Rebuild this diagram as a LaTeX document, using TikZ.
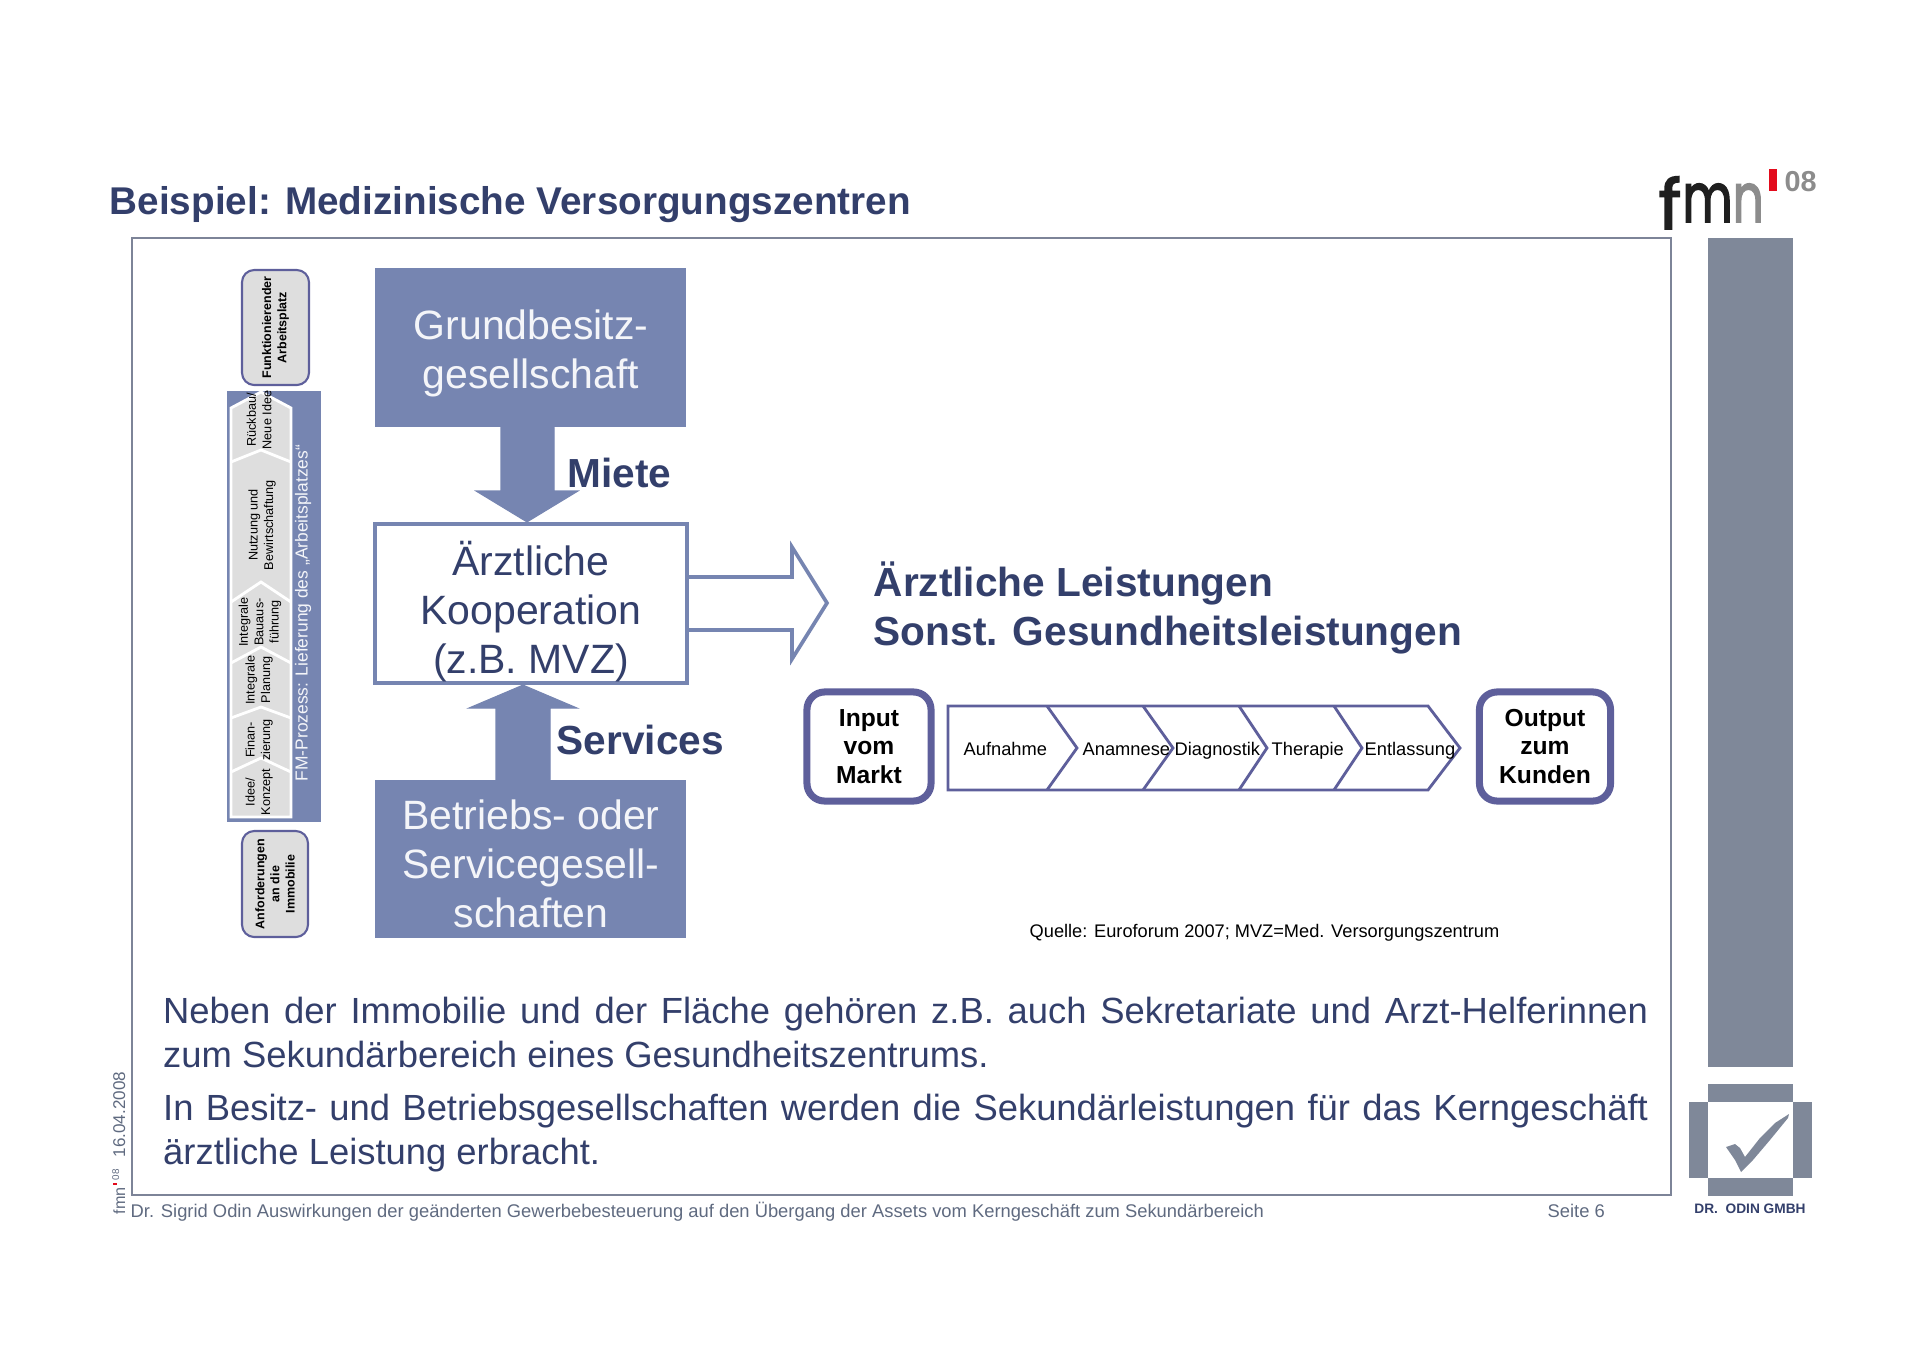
\documentclass[tikz,border=0pt]{standalone}
\usepackage{fontspec}
\setmainfont{Liberation Sans}
\newfontfamily\logofont[FakeBold=2.5]{Poppins}
\usetikzlibrary{positioning, calc}
\definecolor{fmnavy}{HTML}{333F6B}
\definecolor{fmblue}{HTML}{7685B1}
\definecolor{fmgrey}{HTML}{7F8899}
\definecolor{fmframe}{HTML}{7D8498}
\definecolor{fmline}{HTML}{5E5F9B}
\definecolor{fmfoot}{HTML}{5F6A80}
\definecolor{fmgray}{HTML}{DEDEDE}
\definecolor{fmred}{HTML}{E30B1C}
\begin{document}
\begin{tikzpicture}[
  x=0.01cm, y=-0.01cm,
  bigfont/.style={font=\fontsize{11.65}{13.95}\selectfont},
  blockbox/.style={fill=fmblue, inner sep=0pt, minimum width=3.11cm},
  blocktext/.style={text=white!92!fmblue, align=center, inner sep=0pt, bigfont},
  blockarrow/.style={fill=fmblue, draw=fmblue, line width=0.3pt},
  boldlab/.style={font=\fontsize{11.55}{13.95}\selectfont\bfseries, text=fmnavy, inner sep=0pt, anchor=base west},
  bodytext/.style={font=\fontsize{10.35}{12.7}\selectfont, text=fmnavy, inner sep=0pt,
    text width=14.84cm, align=justify, anchor=north west},
  endbox/.style={draw=fmline, line width=2pt, rounded corners=5pt, fill=white, align=center, inner sep=0pt,
    font=\fontsize{7}{8.2}\selectfont\bfseries, minimum height=1.09cm},
  sidebox/.style={draw=fmline, line width=0.6pt, fill=fmgray, rounded corners=3.5pt, rotate=90, align=center,
    inner sep=0pt, font=\fontsize{3.55}{4.3}\selectfont\bfseries},
  sidelab/.style={rotate=90, align=center, inner sep=0pt, font=\fontsize{3.6}{4.4}\selectfont},
  chevlab/.style={font=\fontsize{5.2}{6}\selectfont, inner sep=0pt, anchor=base west},
  footlab/.style={font=\fontsize{5.22}{6}\selectfont, text=fmfoot, inner sep=0pt, anchor=base west}
]
\useasboundingbox (0,0) rectangle (1920,1357);

%--------------------------------------------------------------
% Titel und Logo
%--------------------------------------------------------------
\node[font=\fontsize{11}{13}\selectfont\bfseries, text=fmnavy, inner sep=0pt, anchor=base west]
  (titel) at (109,214) {Beispiel: Medizinische Versorgungszentren};

\node[font=\fontsize{19.5}{20}\logofont\selectfont, text=black!88, inner sep=0pt, anchor=base west]
  (logof) at (1658,229) {f};
\node[font=\fontsize{19.5}{20}\logofont\selectfont, inner sep=0pt, anchor=base west, xscale=0.71]
  (logomn) at (1682,222) {\textcolor{black!88}{m}\textcolor{black!45}{n}};
\fill[fmred] (1769,169) rectangle (1777,191);
\node[font=\fontsize{8.2}{9}\selectfont\bfseries, text=black!45, inner sep=0pt, anchor=base west]
  (logojahr) at (1784,191) {08};

%--------------------------------------------------------------
% Rahmen und Balken rechts
%--------------------------------------------------------------
\draw[draw=fmframe, line width=0.6pt] (132,238) rectangle (1671,1195);
\fill[fmgrey] (1708,238) rectangle (1793,1067);

% Odin-Zeichen
\fill[fmgrey] (1708,1084) rectangle (1793,1102);
\fill[fmgrey] (1708,1178) rectangle (1793,1196);
\fill[fmgrey] (1689,1102) rectangle (1708,1178);
\fill[fmgrey] (1793,1102) rectangle (1812,1178);
\fill[fmgrey] (1726,1147) -- (1735,1144) -- (1740,1148) -- (1745,1157) -- (1760,1138) -- (1775,1123)
  -- (1789,1114) -- (1788,1118) -- (1770,1140) -- (1753,1160) -- (1741,1172) -- (1735,1160) -- cycle;
\node[font=\fontsize{3.9}{5}\selectfont\bfseries, text=fmnavy, inner sep=0pt, anchor=base]
  (odin) at (1750,1213) {DR.\ \ ODIN GMBH};

%--------------------------------------------------------------
% FM-Prozess links
%--------------------------------------------------------------
\node[sidebox, minimum width=1.15cm, minimum height=0.67cm] (arbeitsplatz) at (275.5,327.5)
  {Funktionierender\\ Arbeitsplatz};
\node[sidebox, minimum width=1.06cm, minimum height=0.66cm] (anforderung) at (275,884)
  {Anforderungen\\ an die\\ Immobilie};

\fill[fmblue] (227,391) rectangle (321,822);
\filldraw[fill=fmgray, draw=white, line width=0.8pt]
  (231,817) -- (231,408) -- (261,392) -- (291,408) -- (291,817) -- cycle;
\foreach \ay/\sy in {450/462, 582/602, 647/663, 707/718, 758/772}{
  \draw[white, line width=0.8pt] (231,\sy) -- (261,\ay) -- (291,\sy);
}

\node[sidelab] (rueckbau) at (259,420) {Rückbau/\\ Neue Idee};
\node[sidelab] (nutzung) at (262,525) {Nutzung und\\ Bewirtschaftung};
\node[sidelab] (bauen) at (260,622) {Integrale\\ Bauaus-\\ führung};
\node[sidelab] (planung) at (259,680) {Integrale\\ Planung};
\node[sidelab] (finanz) at (259,740) {Finan-\\ zierung};
\node[sidelab] (konzept) at (259,792) {Idee/\\ Konzept};
\node[rotate=90, inner sep=0pt, text=white!92!fmblue, font=\fontsize{4.95}{6}\selectfont]
  (fmprozess) at (303,613) {FM-Prozess: Lieferung des „Arbeitsplatzes“};

%--------------------------------------------------------------
% Gesellschaften und Blockpfeile
%--------------------------------------------------------------
\node[blockbox, minimum height=1.59cm] (besitz) at (530.5,347.5) {};
\node[blocktext] (besitztext) at (531,353) {Grundbesitz-\\ gesellschaft};
\node[blockbox, minimum height=1.58cm] (betrieb) at (530.5,859) {};
\node[blocktext] (betriebtext) at (531,864) {Betriebs- oder\\ Servicegesell-\\ schaften};
\node[draw=fmblue, line width=1.15pt, fill=white, minimum width=3.12cm, minimum height=1.59cm, inner sep=0pt]
  (kooperation) at (531,603.5) {};
\node[align=center, inner sep=0pt, bigfont, text=fmnavy] (kooptext) at (531,612) {Ärztliche\\ Kooperation\\ (z.B. MVZ)};

\filldraw[blockarrow] (501,0 |- besitz.south) -- (501,491) -- (476,491) -- (527,0 |- kooperation.north)
  -- (578,491) -- (554,491) -- (554,0 |- besitz.south) -- cycle;
\filldraw[blockarrow] (496,0 |- betrieb.north) -- (496,708) -- (469,708) -- (523,0 |- kooperation.south)
  -- (577,708) -- (550,708) -- (550,0 |- betrieb.north) -- cycle;
\draw[draw=fmblue, line width=1.05pt] (kooperation.east |- 0,577) -- (792,577) -- (792,547) -- (827,603)
  -- (792,659) -- (792,630) -- (kooperation.east |- 0,630);

\node[boldlab] (miete) at (567,487) {Miete};
\node[boldlab] (services) at (556,754) {Services};
\node[boldlab] (leist1) at (873,596) {Ärztliche Leistungen};
\node[boldlab] (leist2) at (873,645) {Sonst. Gesundheitsleistungen};

%--------------------------------------------------------------
% Wertschöpfungskette
%--------------------------------------------------------------
\node[endbox, minimum width=1.24cm] (input) at (869,746.5) {Input\\ vom\\ Markt};
\node[endbox, minimum width=1.31cm] (output) at (1545,746.5) {Output\\ zum\\ Kunden};

\draw[draw=fmline, line width=0.8pt] (948,706) -- (1428,706) -- (1460,748) -- (1428,790) -- (948,790) -- cycle;
\foreach \bx/\tx in {1047/1077, 1143/1173, 1239/1267, 1334/1362}{
  \draw[draw=fmline, line width=0.8pt] (\bx,706) -- (\tx,748) -- (\bx,790);
}
\foreach \nm/\lx/\txt in {aufnahme/963/Aufnahme, anamnese/1082/Anamnese, diagnostik/1174/Diagnostik,
  therapie/1271/Therapie, entlassung/1364/Entlassung}{
  \node[chevlab] (\nm) at (\lx,755) {\txt};
}

\node[font=\fontsize{5.18}{6}\selectfont, inner sep=0pt, anchor=base west] (quelle) at (1029,937)
  {Quelle: Euroforum 2007; MVZ=Med. Versorgungszentrum};

%--------------------------------------------------------------
% Text unten
%--------------------------------------------------------------
\node[bodytext] (absatz1) at (162.5,996) {Neben der Immobilie und der Fläche gehören z.B. auch Sekretariate und Arzt-Helferinnen zum Sekundärbereich eines Gesundheitszentrums.};
\node[bodytext] (absatz2) at (162.5,1093) {In Besitz- und Betriebsgesellschaften werden die Sekundärleistungen für das Kerngeschäft ärztliche Leistung erbracht.};

%--------------------------------------------------------------
% Fusszeile
%--------------------------------------------------------------
\node[footlab] (fuss) at (130,1217) {Dr. Sigrid Odin Auswirkungen der geänderten Gewerbebesteuerung auf den Übergang der Assets vom Kerngeschäft zum Sekundärbereich};
\node[footlab] (seite) at (1547,1217) {Seite 6};
\node[rotate=90, inner sep=0pt, anchor=base west, text=fmfoot, font=\fontsize{4.85}{6}\selectfont]
  (datum) at (125,1158) {16.04.2008};
\node[rotate=90, inner sep=0pt, anchor=base west, text=fmfoot, font=\fontsize{4.6}{6}\selectfont]
  (fmnklein) at (125,1215) {fmn};
\fill[fmred] (113,1183) rectangle (117,1185);
\node[rotate=90, inner sep=0pt, anchor=base west, text=fmfoot, font=\fontsize{2.8}{3}\selectfont]
  (fmnjahr) at (119,1181) {08};

\end{tikzpicture}
\end{document}
